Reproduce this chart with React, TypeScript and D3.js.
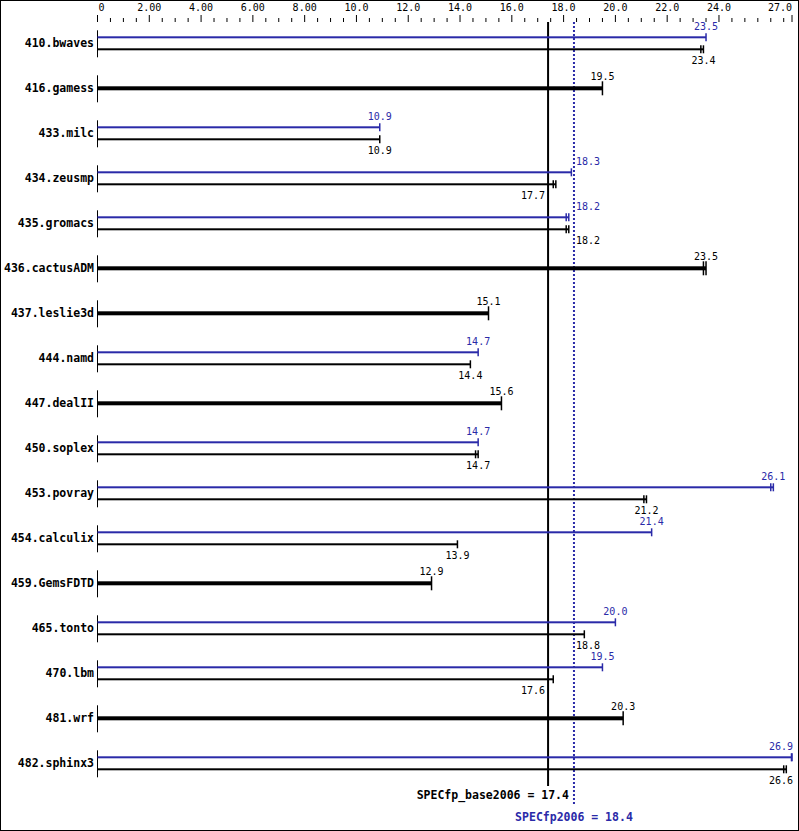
import React from "react";
import * as d3 from "d3";

const categories = [
  "410.bwaves", "416.gamess", "433.milc", "434.zeusmp", "435.gromacs", "436.cactusADM",
  "437.leslie3d", "444.namd", "447.dealII", "450.soplex", "453.povray", "454.calculix",
  "459.GemsFDTD", "465.tonto", "470.lbm", "481.wrf", "482.sphinx3",
];
const baseValues = [23.4, 19.5, 10.9, 17.7, 18.2, 23.5, 15.1, 14.4, 15.6, 14.7, 21.2, 13.9, 12.9, 18.8, 17.6, 20.3, 26.6];
const peakValues: (number | null)[] = [23.5, null, 10.9, 18.3, 18.2, null, null, 14.7, null, 14.7, 26.1, 21.4, null, 20.0, 19.5, null, 26.9];
// second run result (shown as an extra end tick) when visible
const baseRun2: (number | null)[] = [23.3, null, null, 17.6, 18.1, 23.4, null, null, null, 14.6, 21.1, null, null, null, null, null, 26.5];
const peakRun2: (number | null)[] = [null, null, null, null, 18.1, null, null, null, null, null, 26.0, null, null, null, null, null, 26.8];
const majorTicks = [0, 2, 4, 6, 8, 10, 12, 14, 16, 18, 20, 22, 24];
const majorTickLabels = ["0", "2.00", "4.00", "6.00", "8.00", "10.0", "12.0", "14.0", "16.0", "18.0", "20.0", "22.0", "24.0"];
const axisMax = 26.82;
const axisEndLabel = "27.0";
const baseMean = 17.4;
const peakMean = 18.4;
const baseMeanLabel = "SPECfp_base2006 = 17.4";
const peakMeanLabel = "SPECfp2006 = 18.4";

const W = 799;
const H = 831;
const BLUE = "#2a2aa8";
const FONT = "'DejaVu Sans Mono', 'Liberation Mono', monospace";

export default function App() {
  const x = d3.scaleLinear().domain([0, axisMax]).range([97.5, 792]);
  const y = d3.scaleBand<string>().domain(categories).range([20.8, 785.8]).padding(0);
  const cx = (v: number) => Math.min(x(v), x(axisMax));
  const baseX = x(baseMean);
  const peakX = x(peakMean);
  const minor = d3.range(0.5, axisMax, 0.5).filter((v) => !majorTicks.includes(v));

  const placeLabel = (v: number) => {
    const ex = cx(v);
    const half = 12;
    const overlaps = (lx: number) => ex - half < lx + 1 && ex + half > lx - 1;
    if (overlaps(baseX) || overlaps(peakX)) {
      if (ex < (baseX + peakX) / 2) return { x: baseX - 3, anchor: "end" };
      return { x: peakX + 2, anchor: "start" };
    }
    if (ex + half > W - 4) return { x: Math.max(ex, W - 6), anchor: "end" };
    return { x: ex, anchor: "middle" };
  };

  const cap = (v: number, yc: number, h: number, color: string, key: string) => (
    <line key={key} x1={cx(v)} x2={cx(v)} y1={yc - h} y2={yc + h} stroke={color} strokeWidth={1.5} />
  );

  return (
    <svg width={W} height={H} style={{ position: "absolute", left: 0, top: 0, background: "#fff" }}
      fontFamily={FONT}>
      <rect x={0.5} y={0.5} width={W - 1} height={H - 1} fill="#fff" stroke="#000" strokeWidth={1} />
      {/* top axis */}
      {majorTicks.map((t, i) => (
        <g key={"mt" + i}>
          <line x1={x(t)} x2={x(t)} y1={15} y2={22} stroke="#000" strokeWidth={1} />
          <text x={i === 0 ? x(t) + 1 : x(t)} y={10.5} fontSize={10} textAnchor={i === 0 ? "start" : "middle"}>
            {majorTickLabels[i]}
          </text>
        </g>
      ))}
      {minor.map((t, i) => (
        <line key={"mn" + i} x1={x(t)} x2={x(t)} y1={18} y2={22} stroke="#000" strokeWidth={1} />
      ))}
      <line x1={x(axisMax)} x2={x(axisMax)} y1={15} y2={22} stroke="#000" strokeWidth={1} />
      <text x={x(axisMax)} y={10.5} fontSize={10} textAnchor="end">{axisEndLabel}</text>

      {/* reference lines */}
      <line x1={baseX} x2={baseX} y1={22} y2={786} stroke="#000" strokeWidth={2} />
      <line x1={peakX} x2={peakX} y1={22} y2={806} stroke={BLUE} strokeWidth={2} strokeDasharray="2,2" />

      {categories.map((c, i) => {
        const yc = (y(c) as number) + y.bandwidth() / 2;
        const pv = peakValues[i];
        const bv = baseValues[i];
        const items: React.ReactNode[] = [];
        items.push(
          <line key="ax" x1={97.5} x2={97.5} y1={yc - 13} y2={yc + 14} stroke="#000" strokeWidth={1} />
        );
        items.push(
          <text key="lab" x={94} y={yc + 4} fontSize={11.5} fontWeight="bold" textAnchor="end">{c}</text>
        );
        if (pv === null) {
          const l = placeLabel(bv);
          items.push(<rect key="tb" x={x(0)} y={yc - 2} width={cx(bv) - x(0)} height={4} fill="#000" />);
          items.push(cap(bv, yc, 7, "#000", "tc"));
          if (baseRun2[i] !== null) items.push(cap(baseRun2[i] as number, yc, 7, "#000", "tc2"));
          items.push(
            <text key="tl" x={l.x} y={yc - 8.5} fontSize={10} textAnchor={l.anchor as any}>{bv.toFixed(1)}</text>
          );
        } else {
          const yp = yc - 6;
          const yb = yc + 6;
          const lp = placeLabel(pv);
          const lb = placeLabel(bv);
          items.push(<rect key="pb" x={x(0)} y={yp - 1} width={cx(pv) - x(0)} height={2} fill={BLUE} />);
          items.push(cap(pv, yp, 4, BLUE, "pc"));
          if (peakRun2[i] !== null) items.push(cap(peakRun2[i] as number, yp, 4, BLUE, "pc2"));
          items.push(
            <text key="pl" x={lp.x} y={yp - 7} fontSize={10} fill={BLUE} textAnchor={lp.anchor as any}>{pv.toFixed(1)}</text>
          );
          items.push(<rect key="bb" x={x(0)} y={yb - 1} width={cx(bv) - x(0)} height={2} fill="#000" />);
          items.push(cap(bv, yb, 4, "#000", "bc"));
          if (baseRun2[i] !== null) items.push(cap(baseRun2[i] as number, yb, 4, "#000", "bc2"));
          items.push(
            <text key="bl" x={lb.x} y={yb + 14.5} fontSize={10} textAnchor={lb.anchor as any}>{bv.toFixed(1)}</text>
          );
        }
        return <g key={c}>{items}</g>;
      })}

      <text x={peakX - 5} y={799} fontSize={11.5} fontWeight="bold" textAnchor="end">{baseMeanLabel}</text>
      <text x={peakX} y={821} fontSize={11.5} fontWeight="bold" fill={BLUE} textAnchor="middle">{peakMeanLabel}</text>
    </svg>
  );
}
